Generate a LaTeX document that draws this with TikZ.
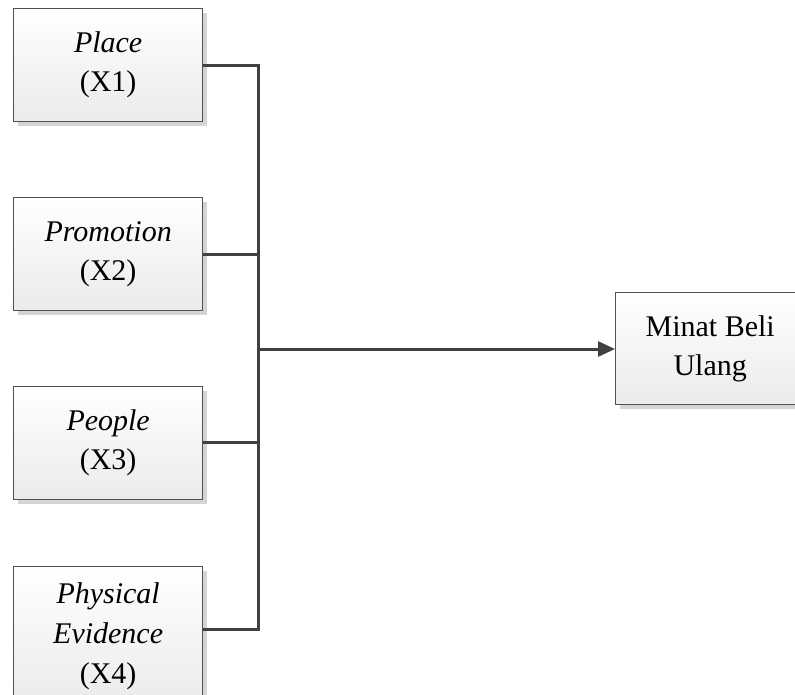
\documentclass[tikz,border=0pt]{standalone}
\usepackage{fontspec}
\setmainfont{Liberation Serif}
\usetikzlibrary{arrows.meta,shadows}
\definecolor{linec}{HTML}{404040}
\definecolor{boxline}{HTML}{505050}
\definecolor{shadowc}{HTML}{D4D4D4}
\tikzset{
  varbox/.style={draw=boxline, line width=1.3pt, minimum width=189pt, minimum height=113pt,
    top color=white, bottom color=black!8, inner sep=0pt, align=center,
    font=\fontsize{30}{39}\selectfont,
    drop shadow={shadow xshift=4pt, shadow yshift=-4pt, fill=shadowc, opacity=1}},
  conn/.style={draw=linec, line width=3pt},
}
\begin{document}
\begin{tikzpicture}[x=1pt,y=-1pt]
\useasboundingbox (0,0) rectangle (795,694);
\clip (0,0) rectangle (795,694);
\node[varbox, anchor=north west] (x1) at (13,8) {\textit{Place}\\(X1)};
\node[varbox, anchor=north west] (x2) at (13,197) {\textit{Promotion}\\(X2)};
\node[varbox, anchor=north west] (x3) at (13,386) {\textit{People}\\(X3)};
\node[varbox, anchor=north west, minimum height=140pt, font=\fontsize{30}{40}\selectfont] (x4) at (13,566) {\textit{Physical}\\\textit{Evidence}\\(X4)};
\node[varbox, anchor=north west, minimum height=112pt] (y) at (615,292) {Minat Beli\\Ulang};
\coordinate (top) at (258,65);
\coordinate (bot) at (258,629);
\coordinate (mid) at (258,349);
\draw[conn] (x1.east |- top) -- (top) -- (bot) -- (x4.east |- bot);
\draw[conn] (x2.east |- 0,254) -- (258,254);
\draw[conn] (x3.east |- 0,442) -- (258,442);
\draw[conn, -{Triangle[length=17pt,width=15pt]}] (mid) -- (y.west |- mid);
\end{tikzpicture}
\end{document}
